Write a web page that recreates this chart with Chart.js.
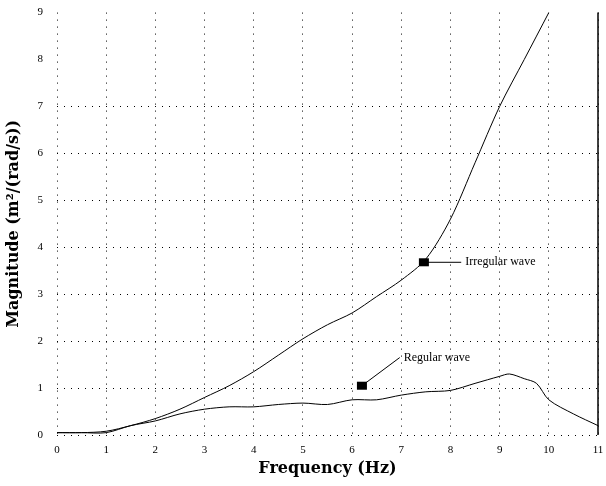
<!DOCTYPE html>
<html>
<head>
<meta charset="utf-8">
<script src="https://cdn.jsdelivr.net/npm/chart.js@4/dist/chart.umd.min.js"></script>
<style>
  html, body { margin: 0; padding: 0; background: #fff; overflow: hidden; }
  canvas { display: block; }
</style>
</head>
<body>
<canvas id="rao" width="606" height="486"></canvas>
<script>
// values
const freqIrr = [0, 0.5, 1, 1.5, 2, 2.5, 3, 3.5, 4, 4.5, 5, 5.5, 6, 6.5, 7, 7.5, 8, 8.5, 9, 9.5, 10];
const magIrr = [0.05, 0.05, 0.08, 0.2, 0.35, 0.55, 0.8, 1.05, 1.35, 1.7, 2.05, 2.35, 2.6, 2.95, 3.3, 3.75, 4.6, 5.8, 7.0, 8.0, 9.0];

const freqReg = [0, 0.5, 1, 1.5, 2, 2.5, 3, 3.5, 4, 4.5, 5, 5.5, 6, 6.5, 7, 7.5, 8, 8.5, 9, 9.2, 9.5, 9.75, 10, 10.5, 11];
const magReg = [0.05, 0.05, 0.05, 0.2, 0.3, 0.45, 0.55, 0.6, 0.6, 0.65, 0.68, 0.65, 0.75, 0.75, 0.85, 0.92, 0.95, 1.1, 1.25, 1.3, 1.2, 1.1, 0.75, 0.45, 0.2];

const xTicks = [0, 1, 2, 3, 4, 5, 6, 7, 8, 9, 10, 11];
const yTicks = [0, 1, 2, 3, 4, 5, 6, 7, 8, 9];
// horizontal grid only shows up to 7 in the picture
const yGrid = [0, 1, 2, 3, 4, 5, 6, 7];

// labels with a pointer line, placed in data units
const notes = [
    { text: "Irregular wave", tipX: 7.46, tipY: 3.68, textX: 8.3, textY: 3.68 },
    { text: "Regular wave", tipX: 6.2, tipY: 1.05, textX: 7.05, textY: 1.65 },
];

function toPoints(xs, ys) {
    return xs.map((x, i) => ({ x: x, y: ys[i] }));
}

const notePlugin = {
    id: "notes",
    afterDatasetsDraw(chart) {
        const ctx = chart.ctx;
        const xs = chart.scales.x;
        const ys = chart.scales.y;
        ctx.save();
        ctx.strokeStyle = "#000";
        ctx.fillStyle = "#000";
        ctx.lineWidth = 1;
        ctx.font = "12px 'Liberation Serif'";
        ctx.textBaseline = "middle";
        notes.forEach((n) => {
            const tx = xs.getPixelForValue(n.tipX);
            const ty = ys.getPixelForValue(n.tipY);
            const lx = xs.getPixelForValue(n.textX);
            const ly = ys.getPixelForValue(n.textY);
            ctx.beginPath();
            ctx.moveTo(tx, ty);
            ctx.lineTo(lx - 4, ly);
            ctx.stroke();
            ctx.fillRect(tx - 5, ty - 4, 10, 8);
            ctx.fillText(n.text, lx, ly);
        });
        // solid right frame
        const a = chart.chartArea;
        ctx.lineWidth = 1.5;
        ctx.beginPath();
        ctx.moveTo(a.right, a.top);
        ctx.lineTo(a.right, a.bottom);
        ctx.stroke();
        ctx.restore();
    },
};

const ctx = document.getElementById("rao").getContext("2d");
new Chart(ctx, {
    type: "scatter",
    data: {
        datasets: [
            {
                label: "Irregular wave",
                data: toPoints(freqIrr, magIrr),
                showLine: true,
                borderColor: "#000",
                borderWidth: 1,
                pointRadius: 0,
                tension: 0.3,
            },
            {
                label: "Regular wave",
                data: toPoints(freqReg, magReg),
                showLine: true,
                borderColor: "#000",
                borderWidth: 1,
                pointRadius: 0,
                tension: 0.3,
            },
        ],
    },
    options: {
        responsive: false,
        animation: false,
        layout: { autoPadding: false, padding: { top: 8, right: 8, left: 0, bottom: 0 } },
        plugins: {
            legend: { display: false },
            tooltip: { enabled: false },
        },
        scales: {
            x: {
                type: "linear",
                min: 0,
                max: 11,
                afterBuildTicks: (scale) => { scale.ticks = xTicks.map((v) => ({ value: v })); },
                afterFit: (scale) => {
                    scale.height = 51;
                    scale.paddingLeft = 0;
                    scale.paddingRight = 0;
                },
                ticks: { color: "#000", font: { family: "'Liberation Serif'", size: 11 }, padding: 9 },
                grid: { color: "#000", lineWidth: 1, drawTicks: false },
                border: { display: false, dash: [1, 6] },
                title: {
                    display: true,
                    text: "Frequency (Hz)",
                    color: "#000",
                    font: { family: "'DejaVu Serif'", size: 16, weight: "bold" },
                    padding: { top: 2, bottom: 8 },
                },
            },
            // grid-only axis
            y: {
                position: "left",
                min: 0,
                max: 9,
                afterBuildTicks: (scale) => { scale.ticks = yGrid.map((v) => ({ value: v })); },
                afterFit: (scale) => { scale.width = 0; },
                ticks: { display: false },
                grid: { color: "#000", lineWidth: 1, drawTicks: false },
                border: { display: false, dash: [1, 6] },
            },
            // labelled axis
            yLab: {
                position: "left",
                min: 0,
                max: 9,
                afterBuildTicks: (scale) => { scale.ticks = yTicks.map((v) => ({ value: v })); },
                afterFit: (scale) => { scale.width = 57; },
                ticks: { color: "#000", font: { family: "'Liberation Serif'", size: 11 }, padding: 6 },
                grid: { display: false },
                border: { display: false },
                title: {
                    display: true,
                    text: "Magnitude (m²/(rad/s))",
                    color: "#000",
                    font: { family: "'DejaVu Serif'", size: 16, weight: "bold" },
                    padding: { bottom: 4 },
                },
            },
        },
    },
    plugins: [notePlugin],
});
</script>
</body>
</html>
